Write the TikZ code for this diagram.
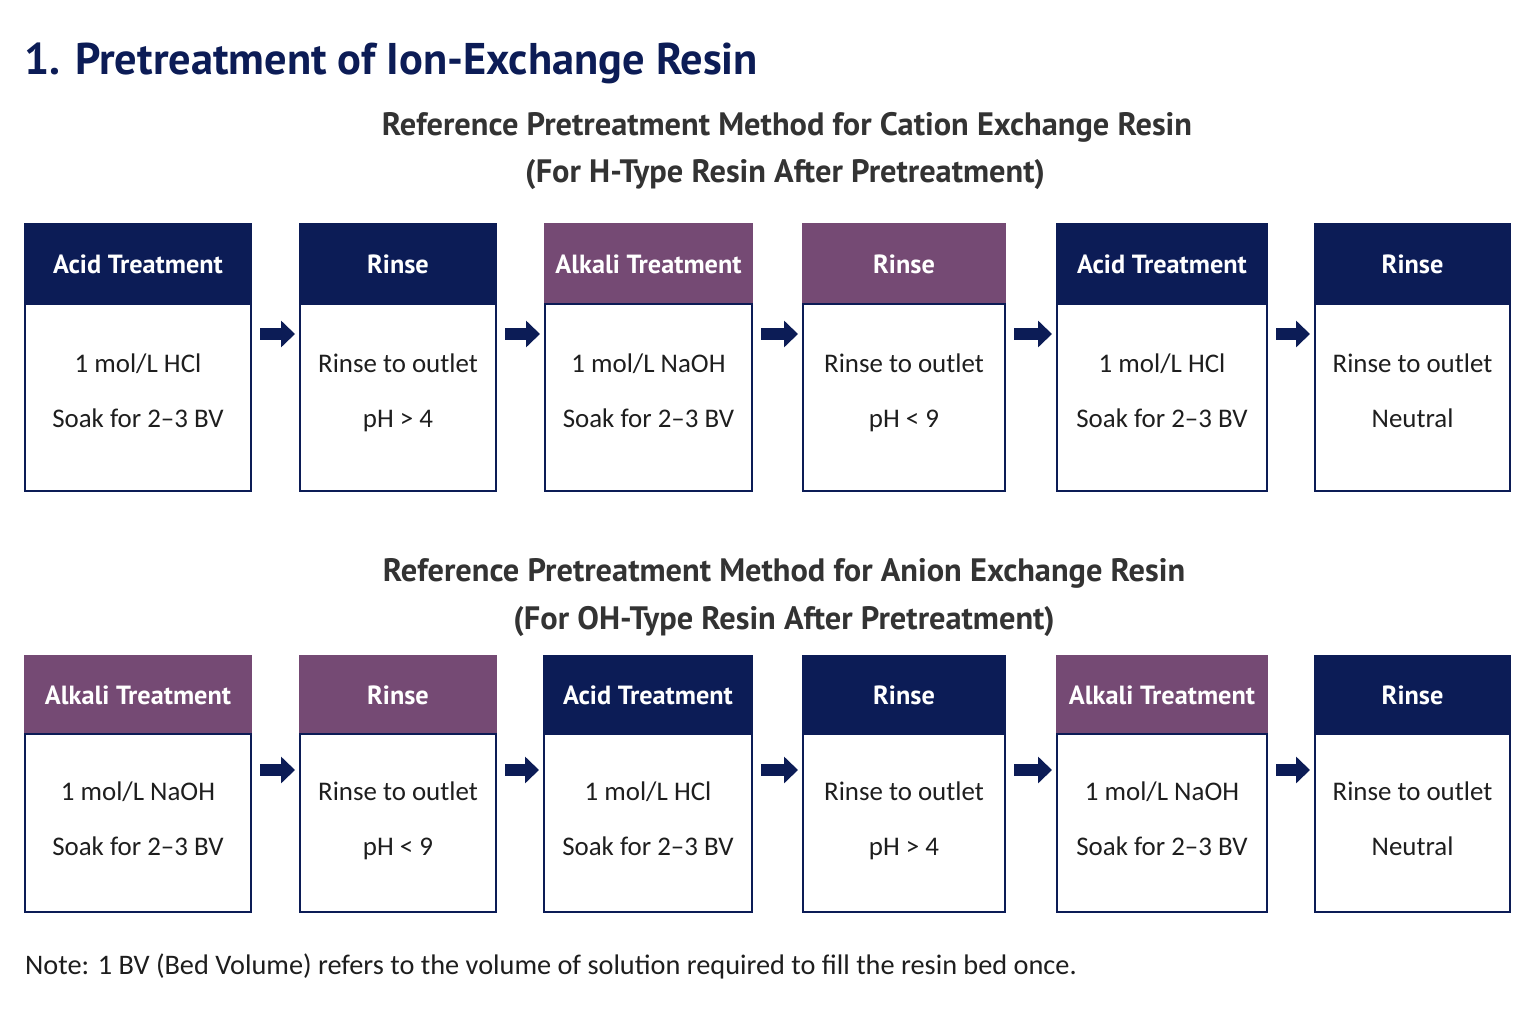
\documentclass[tikz,border=0pt]{standalone}
\usepackage{fontspec}
\setmainfont{Carlito}
\newfontfamily\headfont{PT Sans}
\usetikzlibrary{arrows.meta}
\definecolor{navy}{HTML}{0C1C56}
\definecolor{plum}{HTML}{754A74}
\definecolor{ttl}{HTML}{333333}
\definecolor{bodytxt}{HTML}{1E1E1E}
\tikzset{
  hdr/.style={inner sep=0pt, outer sep=0pt, text=white, font=\headfont\bfseries\fontsize{26.3}{31}\selectfont},
  bodybox/.style={draw=navy, line width=1.5pt, fill=white, inner sep=0pt, outer sep=0pt},
  txt/.style={anchor=base, inner sep=0pt, text=bodytxt, font=\fontsize{26.9}{32}\selectfont},
  sub/.style={anchor=base, inner sep=0pt, text=ttl, font=\headfont\bfseries\fontsize{32.4}{38}\selectfont},
  fat/.style={draw=navy, line width=12pt, -{Triangle[length=14pt,width=26pt]}},
}
\newcommand\mkstep[7]{%
  \node[hdr, fill=#4, draw=#4, line width=1.5pt, minimum width=#3, minimum height=\hh, anchor=north west] (#1h) at (#2,\rowtop) {};
  \node[hdr, anchor=base] (#1ht) at ([yshift=-9]#1h.center) {#5};
  \node[bodybox, minimum width=#3, minimum height=\bh, anchor=north west] (#1b) at (#1h.south west) {};
  \node[txt] (#1la) at ([yshift=-\la]#1h.south) {#6};
  \node[txt] (#1lb) at ([yshift=-\lb]#1h.south) {#7};
}
\begin{document}
\begin{tikzpicture}[x=1pt,y=-1pt]
\useasboundingbox (0,0) rectangle (1536,1024);
\fill[white] (0,0) rectangle (1536,1024);

\node[anchor=base west, inner sep=0pt, text=navy, font=\headfont\bfseries\fontsize{44.4}{53}\selectfont] (title) at (24,75) {1. Pretreatment of Ion-Exchange Resin};

\node[sub] (s1a) at (787,136) {Reference Pretreatment Method for Cation Exchange Resin};
\node[sub] (s1b) at (785,183) {(For H-Type Resin After Pretreatment)};

% row 1
\def\rowtop{224}\def\hh{80}\def\bh{187}\def\la{68}\def\lb{123}
\mkstep{c1}{25}{226}{navy}{Acid Treatment}{1 mol/L HCl}{Soak for 2–3 BV}
\mkstep{c2}{300}{196}{navy}{Rinse}{Rinse to outlet}{pH > 4}
\mkstep{c3}{545}{207}{plum}{Alkali Treatment}{1 mol/L NaOH}{Soak for 2–3 BV}
\mkstep{c4}{803}{202}{plum}{Rinse}{Rinse to outlet}{pH < 9}
\mkstep{c5}{1057}{210}{navy}{Acid Treatment}{1 mol/L HCl}{Soak for 2–3 BV}
\mkstep{c6}{1315}{195}{navy}{Rinse}{Rinse to outlet}{Neutral}

\foreach \a/\b in {c1/c2,c2/c3,c3/c4,c4/c5,c5/c6}
  \draw[fat] ([xshift=9,yshift=-30]\a b.north east) -- ([xshift=-5,yshift=-30]\b b.north west);

\node[sub] (s2a) at (784,581) {Reference Pretreatment Method for Anion Exchange Resin};
\node[sub] (s2b) at (784,629) {(For OH-Type Resin After Pretreatment)};

% row 2
\def\rowtop{656}\def\hh{78}\def\bh{178}\def\la{66}\def\lb{121}
\mkstep{a1}{25}{226}{plum}{Alkali Treatment}{1 mol/L NaOH}{Soak for 2–3 BV}
\mkstep{a2}{300}{196}{plum}{Rinse}{Rinse to outlet}{pH < 9}
\mkstep{a3}{544}{208}{navy}{Acid Treatment}{1 mol/L HCl}{Soak for 2–3 BV}
\mkstep{a4}{803}{202}{navy}{Rinse}{Rinse to outlet}{pH > 4}
\mkstep{a5}{1057}{210}{plum}{Alkali Treatment}{1 mol/L NaOH}{Soak for 2–3 BV}
\mkstep{a6}{1315}{195}{navy}{Rinse}{Rinse to outlet}{Neutral}

\foreach \a/\b in {a1/a2,a2/a3,a3/a4,a4/a5,a5/a6}
  \draw[fat] ([xshift=9,yshift=-36]\a b.north east) -- ([xshift=-5,yshift=-36]\b b.north west);

\node[anchor=base west, inner sep=0pt, text=bodytxt, font=\fontsize{28.3}{34}\selectfont] (note) at (25,974) {Note: 1 BV (Bed Volume) refers to the volume of solution required to fill the resin bed once.};
\end{tikzpicture}
\end{document}
